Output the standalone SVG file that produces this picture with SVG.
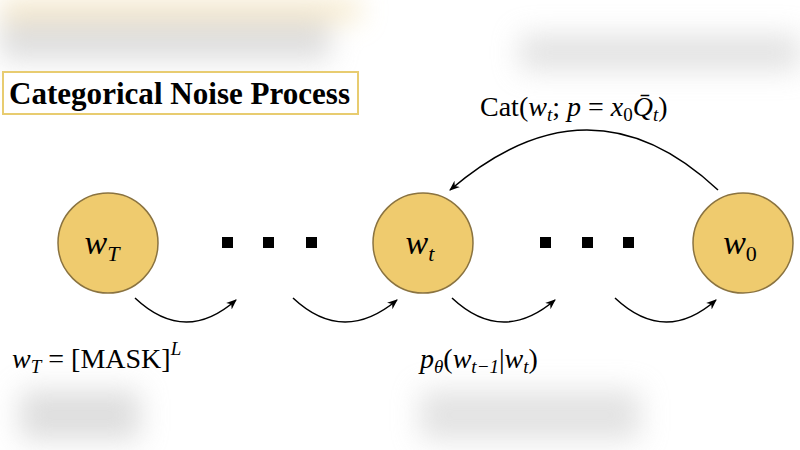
<svg xmlns="http://www.w3.org/2000/svg" width="800" height="450" viewBox="0 0 800 450">
<defs>
<filter id="bl" x="-50%" y="-50%" width="200%" height="200%"><feGaussianBlur stdDeviation="14"/></filter>
<marker id="ah" viewBox="0 0 10 10" refX="9" refY="5" markerWidth="7" markerHeight="7" orient="auto"><path d="M0,1 L10,5 L0,9 L3,5 Z" fill="#000"/></marker>
<style>
.n{fill:#EFCB6E;stroke:#8a7340;stroke-width:1.5}
.m{font-family:"Liberation Serif",serif;font-style:italic;font-size:34px;text-anchor:middle}
.t{font-family:"Liberation Serif",serif;font-size:28px}
.h{font-family:"Liberation Serif",serif;font-weight:bold;font-size:32px}
.c{fill:none;stroke:#000;stroke-width:1.5;marker-end:url(#ah)}
</style>
</defs>
<rect width="800" height="450" fill="#fff"/>
<g filter="url(#bl)" opacity="0.6">
<rect x="0" y="0" width="360" height="20" fill="#f0d9a0"/>
<rect x="0" y="20" width="330" height="40" fill="#c8c8c8"/>
<rect x="520" y="35" width="280" height="35" fill="#cfcfcf"/>
<rect x="20" y="390" width="120" height="50" fill="#c8c8c8"/>
<rect x="420" y="390" width="220" height="50" fill="#d0d0d0"/>
</g>
<g id="title"><rect x="3" y="72" width="355" height="42" fill="#fff" stroke="#E8CC70" stroke-width="2"/>
<text class="h" x="9" y="104" textLength="341" lengthAdjust="spacingAndGlyphs">Categorical Noise Process</text></g>
<g id="nT"><circle class="n" cx="108" cy="243" r="50"/><text class="m" x="102" y="254">w<tspan font-size="22" dy="7">T</tspan></text></g>
<g id="nt"><circle class="n" cx="423" cy="243" r="50"/><text class="m" x="420" y="254">w<tspan font-size="22" dy="7">t</tspan></text></g>
<g id="n0"><circle class="n" cx="743" cy="243" r="50"/><text class="m" x="740" y="254">w<tspan font-size="22" dy="7" font-style="normal">0</tspan></text></g>
<g id="dots1" fill="#000"><rect x="222" y="237" width="11" height="11"/><rect x="263" y="237" width="11" height="11"/><rect x="306" y="237" width="11" height="11"/></g>
<g id="dots2" fill="#000"><rect x="540" y="237" width="11" height="11"/><rect x="582" y="237" width="11" height="11"/><rect x="623" y="237" width="11" height="11"/></g>
<g id="connectors">
<path class="c" d="M135,298 Q185,345 236,300"/>
<path class="c" d="M293,298 Q343,345 397,300"/>
<path class="c" d="M452,298 Q502,345 555,300"/>
<path class="c" d="M615,298 Q665,345 716,300"/>
<path class="c" d="M718,190 Q590,70 450,190"/>
</g>
<g id="labels">
<text class="t" x="480" y="116">Cat(<tspan font-style="italic">w</tspan><tspan font-size="19" dy="5" font-style="italic">t</tspan><tspan dy="-5">; </tspan><tspan font-style="italic">p</tspan> = <tspan font-style="italic">x</tspan><tspan font-size="19" dy="5">0</tspan><tspan dy="-5" font-style="italic">Q̄</tspan><tspan font-size="19" dy="5" font-style="italic">t</tspan><tspan dy="-5">)</tspan></text>
<text class="t" x="12" y="368"><tspan font-style="italic">w</tspan><tspan font-size="19" dy="5" font-style="italic">T</tspan><tspan dy="-5"> = [MASK]</tspan><tspan font-size="19" dy="-13" font-style="italic">L</tspan></text>
<text class="t" x="420" y="368"><tspan font-style="italic">p</tspan><tspan font-size="19" dy="5" font-style="italic">θ</tspan><tspan dy="-5">(</tspan><tspan font-style="italic">w</tspan><tspan font-size="19" dy="5" font-style="italic">t−1</tspan><tspan dy="-5">|</tspan><tspan font-style="italic">w</tspan><tspan font-size="19" dy="5" font-style="italic">t</tspan><tspan dy="-5">)</tspan></text>
</g>
</svg>
